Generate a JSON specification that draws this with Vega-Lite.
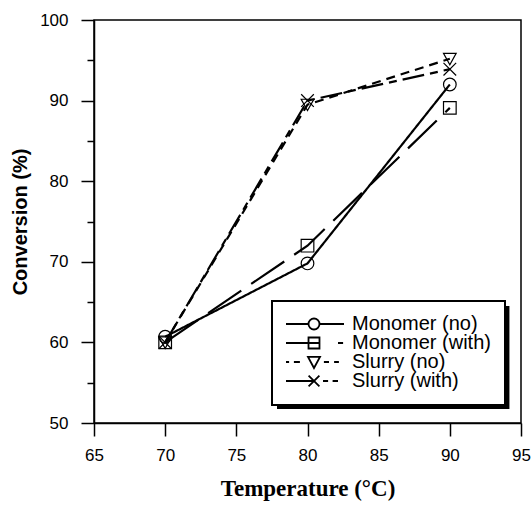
{
  "$schema": "https://vega.github.io/schema/vega-lite/v6.json",
  "width": 427,
  "height": 403,
  "autosize": {"type": "none"},
  "padding": {"left": 94, "top": 20, "right": 11, "bottom": 84},
  "background": "white",
  "config": {
    "view": {"stroke": "black", "strokeWidth": 1.5},
    "axis": {
      "domainColor": "black", "domainWidth": 1.5,
      "tickColor": "black", "tickWidth": 1.5,
      "labelFont": "Liberation Sans", "labelFontSize": 17, "labelColor": "black",
      "labelFlush": false, "grid": false
    },
    "legend": {"strokeWidth": 2}
  },
  "data": {
    "values": [
      {"T": 70, "conv": 60.7, "series": "Monomer (no)"},
      {"T": 80, "conv": 69.8, "series": "Monomer (no)"},
      {"T": 90, "conv": 92.0, "series": "Monomer (no)"},
      {"T": 70, "conv": 60.0, "series": "Monomer (with)"},
      {"T": 80, "conv": 72.0, "series": "Monomer (with)"},
      {"T": 90, "conv": 89.1, "series": "Monomer (with)"},
      {"T": 70, "conv": 60.0, "series": "Slurry (no)"},
      {"T": 80, "conv": 89.5, "series": "Slurry (no)"},
      {"T": 90, "conv": 95.2, "series": "Slurry (no)"},
      {"T": 70, "conv": 60.0, "series": "Slurry (with)"},
      {"T": 80, "conv": 90.0, "series": "Slurry (with)"},
      {"T": 90, "conv": 93.9, "series": "Slurry (with)"}
    ]
  },
  "encoding": {
    "x": {
      "field": "T", "type": "quantitative",
      "scale": {"domain": [65, 95], "nice": false, "zero": false},
      "axis": {
        "values": [65, 70, 75, 80, 85, 90, 95], "tickSize": 13, "labelPadding": 11,
        "title": "Temperature (°C)", "titleFont": "Liberation Serif",
        "titleFontSize": 23, "titleFontWeight": "bold", "titleColor": "black",
        "titlePadding": 14
      }
    },
    "y": {
      "field": "conv", "type": "quantitative",
      "scale": {"domain": [50, 100], "nice": false, "zero": false},
      "axis": {
        "values": [50, 55, 60, 65, 70, 75, 80, 85, 90, 95, 100],
        "labelExpr": "datum.value % 10 === 0 ? datum.label : ''",
        "tickSize": {"condition": {"test": "datum.value % 10 === 0", "value": 13}, "value": 7},
        "labelPadding": 13,
        "title": "Conversion (%)", "titleFont": "Liberation Sans",
        "titleFontSize": 20, "titleFontWeight": "bold", "titleColor": "black",
        "titlePadding": 9
      }
    }
  },
  "layer": [
    {
      "mark": {"type": "rect", "color": "black"},
      "encoding": {
        "x": {"datum": 77.86},
        "x2": {"datum": 94.16},
        "y": {"datum": 64.52},
        "y2": {"datum": 51.74}
      }
    },
    {
      "mark": {"type": "line", "color": "black", "strokeWidth": 2.2},
      "encoding": {
        "strokeDash": {
          "field": "series", "type": "nominal",
          "scale": {
            "domain": ["Monomer (no)", "Monomer (with)", "Slurry (no)", "Slurry (with)"],
            "range": [[1, 0], [40, 12], [9, 6], [22, 6, 8, 6]]
          },
          "legend": null
        }
      }
    },
    {
      "mark": {"type": "point", "filled": false, "color": "black", "strokeWidth": 1.2, "size": 160, "opacity": 1},
      "encoding": {
        "shape": {
          "field": "series", "type": "nominal",
          "scale": {
            "domain": ["Monomer (no)", "Monomer (with)", "Slurry (no)", "Slurry (with)"],
            "range": ["circle", "square", "M-1,-0.85L1,-0.85L0,0.95Z", "M-1,-1L1,1M-1,1L1,-1"]
          },
          "legend": null
        }
      }
    },
    {
      "mark": {"type": "point", "filled": false, "color": "black", "opacity": 0},
      "encoding": {
        "shape": {
          "field": "series", "type": "nominal",
          "scale": {
            "domain": ["Monomer (no)", "Monomer (with)", "Slurry (no)", "Slurry (with)"],
            "range": [
              "M-1,0H-0.183M0.183,0H1M0.183,0C0.183,0.101,0.101,0.183,0,0.183C-0.101,0.183,-0.183,0.101,-0.183,0C-0.183,-0.101,-0.101,-0.183,0,-0.183C0.101,-0.183,0.183,-0.101,0.183,0Z",
              "M-1,0H0.183M-0.183,-0.183H0.183V0.183H-0.183ZM0.8,0H0.97",
              "M-1,0H-0.83M-0.67,0H-0.47M-0.2,-0.17L0.2,-0.17L0,0.2ZM0.33,0H0.5M0.67,0H0.83",
              "M-1,0H0M-0.18,-0.18L0.18,0.18M-0.18,0.18L0.18,-0.18M0.3,0H0.47M0.62,0H0.8"
            ]
          },
          "legend": {
            "orient": "none", "legendX": 178, "legendY": 281,
            "title": null,
            "labelFont": "Liberation Sans", "labelFontSize": 20, "labelColor": "black",
            "labelOffset": 7, "symbolOffset": -3,
            "symbolSize": 3600, "symbolStrokeWidth": 1.8, "symbolStrokeColor": "black",
            "symbolFillColor": "transparent", "symbolOpacity": 1,
            "clipHeight": 18,
            "padding": 14, "rowPadding": -2,
            "strokeColor": "black", "fillColor": "white"
          }
        }
      }
    }
  ],
  "resolve": {"scale": {"shape": "independent"}}
}
